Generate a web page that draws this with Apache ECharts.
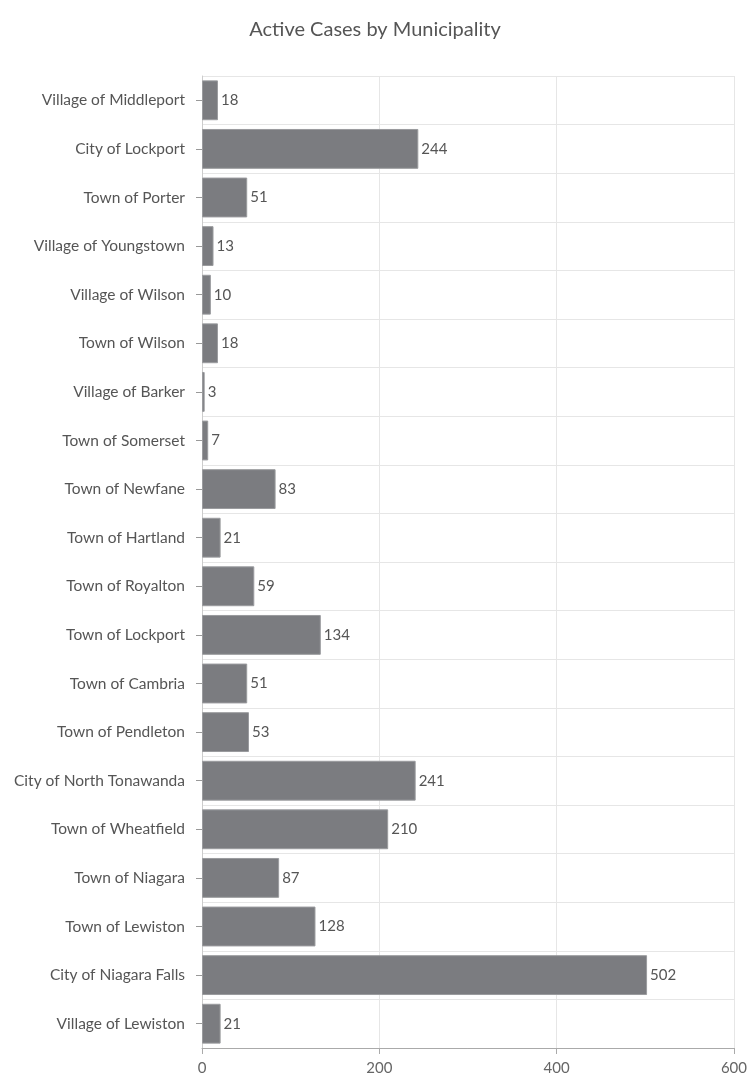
<!DOCTYPE html>
<html>
<head>
<meta charset="utf-8">
<script src="https://cdn.jsdelivr.net/npm/echarts@6/dist/echarts.min.js"></script>
<style>html,body{margin:0;padding:0;background:#fff}#c{width:750px;height:1082px}</style>
</head>
<body>
<div id="c"></div>
<script>
const categories = ["Village of Middleport","City of Lockport","Town of Porter","Village of Youngstown","Village of Wilson","Town of Wilson","Village of Barker","Town of Somerset","Town of Newfane","Town of Hartland","Town of Royalton","Town of Lockport","Town of Cambria","Town of Pendleton","City of North Tonawanda","Town of Wheatfield","Town of Niagara","Town of Lewiston","City of Niagara Falls","Village of Lewiston"];
const activeCases = [18,244,51,13,10,18,3,7,83,21,59,134,51,53,241,210,87,128,502,21];
const xTicks = {min: 0, max: 600, interval: 200};

const chart = echarts.init(document.getElementById('c'), null, {renderer: 'canvas'});
chart.setOption({
  animation: false,
  backgroundColor: '#ffffff',
  title: {
    text: 'Active Cases by Municipality',
    left: 'center', top: 15,
    textStyle: {fontFamily: 'Lato', fontWeight: 'normal', fontSize: 20, color: '#555'}
  },
  grid: {left: 202, right: 14, top: 76, bottom: 34, containLabel: false},
  xAxis: {
    type: 'value', min: xTicks.min, max: xTicks.max, interval: xTicks.interval,
    axisLine: {show: true, lineStyle: {color: '#aaa', width: 1}},
    axisTick: {show: true, length: 6, lineStyle: {color: '#aaa'}},
    axisLabel: {color: '#666', fontFamily: 'Lato', fontSize: 15, margin: 13},
    splitLine: {show: true, lineStyle: {color: '#e6e6e6'}}
  },
  yAxis: {
    type: 'category', data: categories, inverse: true,
    axisLine: {show: true, lineStyle: {color: '#ccc'}},
    axisTick: {show: true, length: 6, alignWithLabel: true, lineStyle: {color: '#999'}},
    axisLabel: {color: '#555', fontFamily: 'Lato', fontSize: 15.5, margin: 17, interval: 0},
    splitLine: {show: true, interval: 0, lineStyle: {color: '#e6e6e6'}}
  },
  series: [{
    type: 'bar', data: activeCases,
    barCategoryGap: '18%',
    itemStyle: {color: '#7b7c80', borderColor: '#9a9b9e', borderWidth: 1},
    label: {show: true, position: 'right', distance: 3, color: '#555', fontFamily: 'Lato', fontSize: 15}
  }]
});
</script>
</body>
</html>
